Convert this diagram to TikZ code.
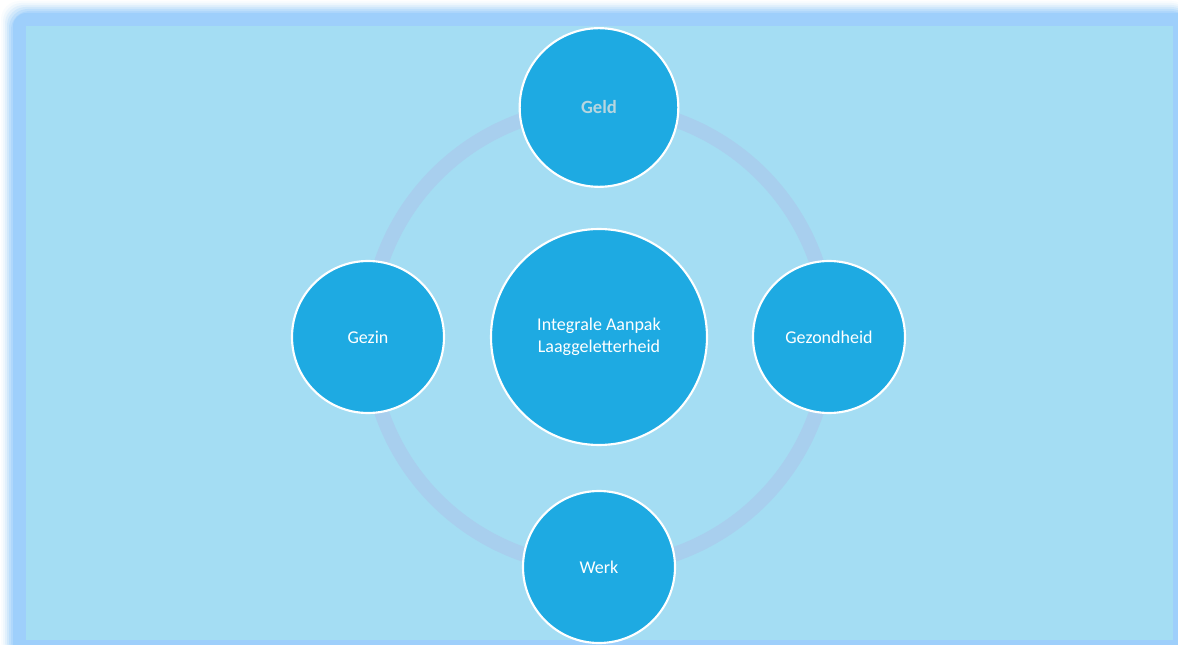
\documentclass[tikz,border=0pt]{standalone}
\usepackage{fontspec}
\setmainfont{Carlito}
\usetikzlibrary{positioning}

\definecolor{pagebg}{HTML}{A4DDF3}
\definecolor{frameblue}{HTML}{9ECFFB}
\definecolor{ringblue}{HTML}{A8CFEE}
\definecolor{bubble}{HTML}{1EAAE2}
\definecolor{geldtext}{HTML}{B6D6E0}

\tikzset{
    bubblenode/.style={circle, draw=white, line width=1.6pt, fill=bubble,
        text=white, font=\fontsize{13.5}{16.5}\selectfont, align=center,
        inner sep=0pt, minimum size=#1},
    bubblenode/.default=114pt
}

\begin{document}
\begin{tikzpicture}[x=0.75pt,y=-0.75pt]
        \useasboundingbox (0,0) rectangle (1178,645);
        \fill[white] (0,0) rectangle (1178,645);

        % soft glow round the frame
        \foreach \d/\op in {12/0.06,10/0.10,8/0.16,6/0.24,4/0.34,2/0.46}{
            \fill[frameblue, opacity=\op, rounded corners=14] (13-\d,13-\d) rectangle (1190,660);
        }
        \fill[frameblue, rounded corners=10] (13,13) rectangle (1190,660);
        \fill[pagebg] (26,26) rectangle (1173,640);

        \coordinate (M) at (599,337);
        \draw[ringblue, line width=11pt] (M) circle (230);

        \node[bubblenode=162pt] (center) at (M) {Integrale Aanpak\\Laaggeletterheid};
        \node[bubblenode=119pt, text=geldtext, font=\fontsize{14}{16.5}\selectfont\bfseries] (geld) at (599,107.5) {Geld};
        \node[bubblenode] (gezin) at (368,337) {Gezin};
        \node[bubblenode] (gezondheid) at (829,337) {Gezondheid};
        \node[bubblenode] (werk) at (599,567) {Werk};

    \end{tikzpicture}
\end{document}
